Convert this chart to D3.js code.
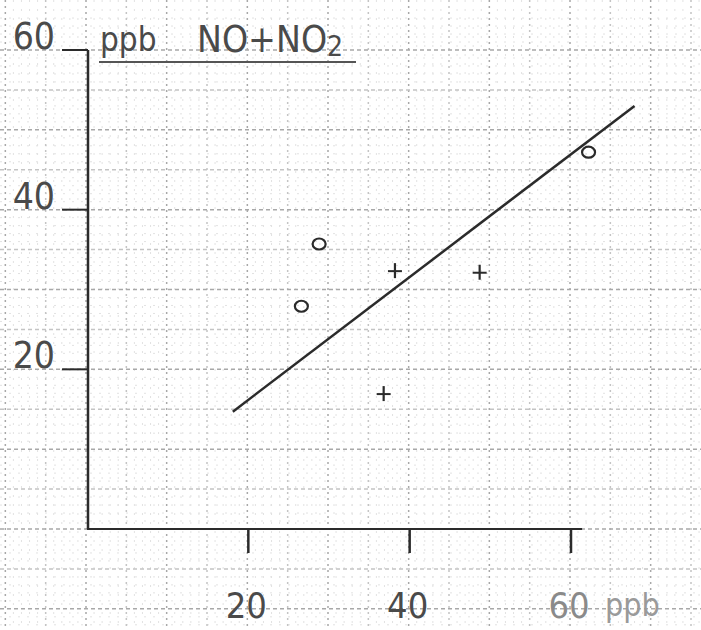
<!DOCTYPE html>
<html>
<head>
<meta charset="utf-8">
<script src="https://cdn.jsdelivr.net/npm/d3@7"></script>
<style>
  html, body { margin: 0; padding: 0; background: #fff; }
  svg { display: block; }
</style>
</head>
<body>
<svg id="chart" width="701" height="630"></svg>
<script>
// ---- data ----
const xTicks = [20, 40, 60];
const yTicks = [20, 40, 60];
const circlePoints = [
  { x: 28.9, y: 35.7 },
  { x: 26.7, y: 27.9 },
  { x: 62.3, y: 47.2 }
];
const crossPoints = [
  { x: 38.3, y: 32.3 },
  { x: 48.8, y: 32.1 },
  { x: 36.9, y: 16.9 }
];
const fitLine = [
  { x: 18.2, y: 14.7 },
  { x: 68.0, y: 53.0 }
];
const yTitle = ["ppb", "NO+NO", "2"];
const xUnit = "ppb";

// ---- layout ----
const svg = d3.select("#chart");
const W = 701, H = 630;
const x = d3.scaleLinear().domain([0, 60]).range([86, 570]);
const y = d3.scaleLinear().domain([0, 60]).range([529, 50]);
const ink = "#2b2b2b";
const textInk = "#4a4a4a";
const font = "'Liberation Sans Narrow', 'DejaVu Sans Condensed', 'Liberation Sans', sans-serif";

// ---- graph-paper grid ----
const g = svg.append("g");
const minorX = d3.range(-10, 77, 1).filter(v => v % 5 !== 0);
const minorY = d3.range(-12, 65, 1).filter(v => v % 5 !== 0);
const majorX = d3.range(-10, 77, 5);
const majorY = d3.range(-10, 65, 5);

g.selectAll(".mx").data(minorX).join("line")
  .attr("x1", d => x(d)).attr("x2", d => x(d)).attr("y1", 0).attr("y2", H)
  .attr("stroke", "#e2e2e2").attr("stroke-width", 1).attr("stroke-dasharray", "2,7");
g.selectAll(".my").data(minorY).join("line")
  .attr("y1", d => y(d)).attr("y2", d => y(d)).attr("x1", 0).attr("x2", W)
  .attr("stroke", "#e2e2e2").attr("stroke-width", 1).attr("stroke-dasharray", "2,7");
g.selectAll(".Mx").data(majorX).join("line")
  .attr("x1", d => x(d)).attr("x2", d => x(d)).attr("y1", 0).attr("y2", H)
  .attr("stroke", d => d % 10 === 0 ? "#a8a8a8" : "#c4c4c4")
  .attr("stroke-width", 1.5).attr("stroke-dasharray", "2,4");
g.selectAll(".My").data(majorY).join("line")
  .attr("y1", d => y(d)).attr("y2", d => y(d)).attr("x1", 0).attr("x2", W)
  .attr("stroke", d => d % 10 === 0 ? "#a8a8a8" : "#c4c4c4")
  .attr("stroke-width", 1.5).attr("stroke-dasharray", "4,3");

// ---- axes ----
svg.append("line")
  .attr("x1", x(0) + 2).attr("x2", x(0) + 2).attr("y1", y(60)).attr("y2", y(0))
  .attr("stroke", ink).attr("stroke-width", 2.5);
svg.append("line")
  .attr("x1", x(0) + 1).attr("x2", x(61.5)).attr("y1", y(0)).attr("y2", y(0))
  .attr("stroke", ink).attr("stroke-width", 2.2);

// y ticks (to the left) and labels
svg.selectAll(".yt").data(yTicks).join("line")
  .attr("x1", x(0) - 24).attr("x2", x(0) + 2)
  .attr("y1", d => y(d)).attr("y2", d => y(d))
  .attr("stroke", ink).attr("stroke-width", 2);
svg.selectAll(".yl").data(yTicks).join("text")
  .attr("x", x(0) - 31).attr("y", d => y(d) - 1)
  .attr("text-anchor", "end")
  .attr("font-family", font).attr("font-size", 37)
  .attr("fill", textInk)
  .text(d => d);

// x ticks (downward) and labels
svg.selectAll(".xt").data(xTicks).join("line")
  .attr("x1", d => x(d) + 1).attr("x2", d => x(d) + 1)
  .attr("y1", y(0)).attr("y2", y(0) + 24)
  .attr("stroke", ink).attr("stroke-width", 2.5);
svg.selectAll(".xl").data(xTicks).join("text")
  .attr("x", d => x(d) - 1).attr("y", 618)
  .attr("text-anchor", "middle")
  .attr("font-family", font).attr("font-size", 36)
  .attr("fill", d => d === 60 ? "#8a8a8a" : textInk)
  .text(d => d);
svg.append("text")
  .attr("x", x(60) + 35).attr("y", 616)
  .attr("font-family", font).attr("font-size", 32)
  .attr("fill", "#9a9a9a")
  .text(xUnit);

// y-axis title: "ppb  NO+NO2" with underline
const t = svg.append("text")
  .attr("font-family", font).attr("fill", textInk);
t.append("tspan").attr("x", 100).attr("y", 51).attr("font-size", 33).text(yTitle[0]);
t.append("tspan").attr("x", 197).attr("y", 52).attr("font-size", 37).text(yTitle[1]);
t.append("tspan").attr("dy", 4).attr("font-size", 28).text(yTitle[2]);
svg.append("line")
  .attr("x1", 99).attr("x2", 356).attr("y1", 62).attr("y2", 62)
  .attr("stroke", "#555").attr("stroke-width", 2);

// ---- fit line ----
svg.append("line")
  .attr("x1", x(fitLine[0].x)).attr("y1", y(fitLine[0].y))
  .attr("x2", x(fitLine[1].x)).attr("y2", y(fitLine[1].y))
  .attr("stroke", ink).attr("stroke-width", 2.5);

// ---- circle markers ----
svg.selectAll(".c").data(circlePoints).join("ellipse")
  .attr("cx", d => x(d.x)).attr("cy", d => y(d.y))
  .attr("rx", 6.5).attr("ry", 5.5)
  .attr("fill", "none").attr("stroke", ink).attr("stroke-width", 2.2);

// ---- cross markers ----
const cr = svg.selectAll(".cr").data(crossPoints).join("g")
  .attr("transform", d => `translate(${x(d.x)},${y(d.y)})`);
cr.append("line").attr("x1", -7).attr("x2", 7).attr("y1", 0).attr("y2", 0)
  .attr("stroke", ink).attr("stroke-width", 2);
cr.append("line").attr("x1", 0).attr("x2", 0).attr("y1", -8).attr("y2", 7)
  .attr("stroke", ink).attr("stroke-width", 2.2);
</script>
</body>
</html>
